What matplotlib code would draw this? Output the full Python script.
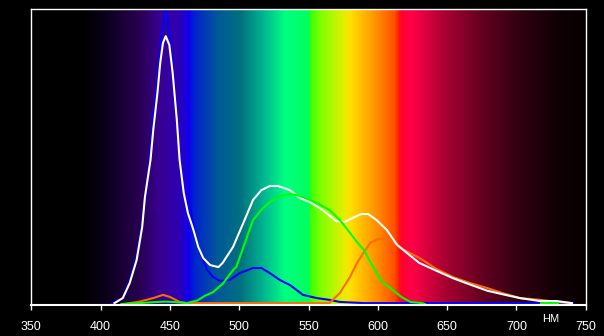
import matplotlib

matplotlib.use("Agg")

import matplotlib.pyplot as plt
import numpy as np
from matplotlib.colors import LinearSegmentedColormap

# spectrum background stops (nm, colour)
bg_nm = [350, 388, 402, 428, 442, 456, 464, 467, 485, 501, 520, 533, 550,
         552, 559, 575, 580, 599, 612, 615, 617, 625, 651, 677, 703, 730, 750]
bg_colors = ["#000000", "#000000", "#0a0018", "#280050", "#380090", "#3000b0",
             "#1000f0", "#0020d0", "#005a98", "#007080", "#00c090", "#00ff80",
             "#00ff60", "#40ff00", "#80ff00", "#e0f000", "#ffe000", "#ff9000",
             "#ff5000", "#ff2000", "#ff0030", "#ff0048", "#a00030", "#600020",
             "#300010", "#100005", "#050000"]

# total (white)
white_nm = [410, 416, 421, 426, 430, 432, 436, 438, 441, 443, 445, 447, 449.6,
            452, 455, 457, 460, 463, 467, 470.5, 474, 479, 485, 488, 495.5, 503,
            510, 516, 522, 528, 536.5, 544, 551, 560, 570, 576, 582, 588, 593,
            599, 606.5, 614, 621, 630, 642.6, 654, 666.5, 679, 690, 702.6, 717,
            729, 740]
white_val = [0.003, 0.020, 0.071, 0.149, 0.261, 0.363, 0.488, 0.590, 0.715,
             0.817, 0.885, 0.908, 0.878, 0.783, 0.624, 0.488, 0.376, 0.308,
             0.251, 0.193, 0.156, 0.132, 0.125, 0.139, 0.193, 0.275, 0.353,
             0.386, 0.400, 0.400, 0.386, 0.359, 0.346, 0.319, 0.281, 0.278,
             0.292, 0.305, 0.305, 0.285, 0.251, 0.200, 0.173, 0.139, 0.112,
             0.088, 0.066, 0.045, 0.033, 0.020, 0.010, 0.010, 0.003]

# blue channel
blue_nm = [408, 416, 421, 426, 430, 433, 436, 438, 441, 444, 447, 450, 452,
           455, 457, 460, 464.5, 468, 471.7, 474, 477, 481, 486, 493, 500.6,
           510, 516, 522, 529.5, 536.7, 546, 556, 565, 572.6, 590, 741]
blue_val = [0.0, 0.020, 0.078, 0.159, 0.278, 0.386, 0.515, 0.631, 0.759,
            0.912, 0.997, 0.912, 0.810, 0.641, 0.505, 0.386, 0.329, 0.244,
            0.173, 0.149, 0.115, 0.092, 0.078, 0.081, 0.105, 0.122, 0.122,
            0.105, 0.081, 0.064, 0.031, 0.020, 0.014, 0.007, 0.003, 0.003]

# green channel
green_nm = [415, 428, 441, 447, 452, 462, 470, 475, 481, 488, 495.6, 498,
            503, 510, 516, 522, 529.5, 536.7, 541.6, 546, 556, 565, 572.6, 580,
            585, 590, 594.6, 603, 609, 617, 623.5, 632, 634]
green_val = [0.0, 0.003, 0.007, 0.008, 0.007, 0.003, 0.012, 0.027, 0.040,
             0.068, 0.115, 0.126, 0.193, 0.285, 0.319, 0.346, 0.366, 0.373,
             0.369, 0.363, 0.342, 0.319, 0.285, 0.241, 0.210, 0.183, 0.142,
             0.075, 0.054, 0.024, 0.007, 0.003, 0.0]
green_tail_nm = [718, 730]
green_tail_val = [0.002, 0.002]

# red channel (drawn orange)
orange_nm = [417, 428, 438, 445, 450, 457, 463, 560, 565, 572.6, 580, 585, 590,
             594.6, 600, 606.5, 611, 618, 630, 642.6, 654, 666.5, 679, 690,
             702.6, 717, 729, 740]
orange_val = [0.0, 0.008, 0.020, 0.031, 0.024, 0.007, 0.003, 0.003, 0.003,
              0.037, 0.092, 0.139, 0.176, 0.207, 0.220, 0.220, 0.210, 0.186,
              0.156, 0.118, 0.092, 0.071, 0.054, 0.037, 0.020, 0.014, 0.007,
              0.003]

x_ticks = [350, 400, 450, 500, 550, 600, 650, 700, 750]
y_lim = (-0.0034, 1.0)

fig = plt.figure(figsize=(6.04, 3.36), dpi=100, facecolor="black")
ax = fig.add_axes([31.3 / 604, 31 / 336, 554.4 / 604, 296 / 336])
ax.set_facecolor("black")

span = bg_nm[-1] - bg_nm[0]
cmap = LinearSegmentedColormap.from_list(
    "spectrum", [((n - bg_nm[0]) / span, c) for n, c in zip(bg_nm, bg_colors)], N=1024
)
grad = np.linspace(0, 1, 800).reshape(1, -1)
ax.imshow(grad, cmap=cmap, aspect="auto", extent=[350, 750, y_lim[0], y_lim[1]],
          interpolation="nearest", zorder=0)

lw = 1.5
ax.plot(blue_nm, blue_val, color="#0000ff", lw=lw, zorder=2)
ax.plot(orange_nm, orange_val, color="#ff6a00", lw=lw, zorder=3)
ax.plot(white_nm, white_val, color="white", lw=lw, zorder=4)
ax.plot(green_nm, green_val, color="#00ff00", lw=lw, zorder=5)
ax.plot(green_tail_nm, green_tail_val, color="#00ff00", lw=lw, zorder=5)

ax.set_xlim(350, 750)
ax.set_ylim(*y_lim)
ax.set_xticks(x_ticks)
ax.set_xticklabels([str(t) for t in x_ticks], color="white", fontsize=9,
                   family="Liberation Sans")
ax.set_yticks([])
ax.tick_params(axis="x", direction="out", length=3.6, width=1, color="white", pad=8)
for side, spine in ax.spines.items():
    spine.set_color("white")
    spine.set_linewidth(1.5 if side == "bottom" else 1.0)
    spine.set_zorder(6)

ax.text(724.4, -0.035, "НМ", color="white", fontsize=8, family="Liberation Sans",
        ha="center", va="top", clip_on=False)

fig.savefig("out.png", dpi=100, facecolor="black")
